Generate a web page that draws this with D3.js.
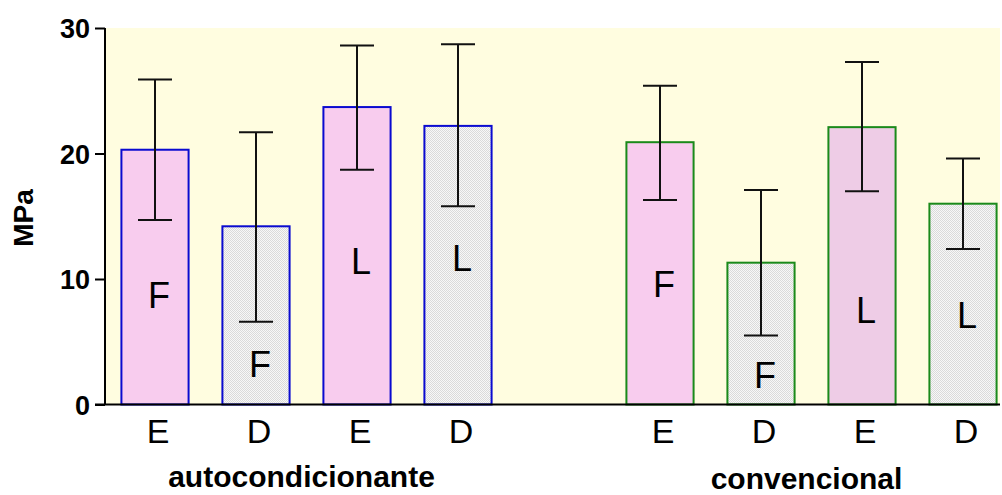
<!DOCTYPE html>
<meta charset="utf-8">
<style>
body { margin: 0; background: #fff; }
text { font-family: "Liberation Sans", Arial, sans-serif; }
.ytick { font-size: 27px; font-weight: bold; }
.xtick { font-size: 34px; }
.group { font-size: 30px; font-weight: bold; }
.inlabel { font-size: 36px; }
</style>
<body>
<script src="https://d3js.org/d3.v7.min.js"></script>
<script>
var width = 1002,
    height = 495;

// data
var slots = ["a1", "a2", "a3", "a4", "gap", "c1", "c2", "c3", "c4"];
var categories = ["E", "D", "E", "D", "E", "D", "E", "D"];
var groups = ["autocondicionante", "autocondicionante", "autocondicionante", "autocondicionante",
              "convencional", "convencional", "convencional", "convencional"];
var means = [20.3, 14.2, 23.7, 22.2, 20.9, 11.3, 22.1, 16.0];
var errHigh = [25.9, 21.7, 28.6, 28.7, 25.4, 17.1, 27.3, 19.6];
var errLow = [14.7, 6.6, 18.7, 15.8, 16.3, 5.5, 17.0, 12.4];
var inLabels = ["F", "F", "L", "L", "F", "F", "L", "L"];
var inLabelAt = [7.7, 2.2, 10.4, 10.6, 8.6, 1.3, 6.5, 6.1];
var yTicks = [0, 10, 20, 30];
var groupNames = ["autocondicionante", "convencional"];

var svg = d3.select("body").append("svg")
    .attr("width", width)
    .attr("height", height);

var defs = svg.append("defs");
var pat = defs.append("pattern")
    .attr("id", "dots")
    .attr("width", 2).attr("height", 2)
    .attr("patternUnits", "userSpaceOnUse");
pat.append("rect").attr("width", 2).attr("height", 2).attr("fill", "#f7f7f7");
pat.append("rect").attr("width", 1).attr("height", 1).attr("fill", "#dadada");
pat.append("rect").attr("x", 1).attr("y", 1).attr("width", 1).attr("height", 1).attr("fill", "#dadada");

var x = d3.scaleBand()
    .domain(slots)
    .range([104.5, 1013.5])
    .paddingInner(0.335)
    .paddingOuter(0.1675);

var y = d3.scaleLinear()
    .domain([0, 30])
    .range([404.5, 28]);

var bars = means.map(function (m, i) {
    return {
        slot: slots[i < 4 ? i : i + 1],
        cat: categories[i],
        group: groups[i],
        mean: m,
        hi: errHigh[i],
        lo: errLow[i],
        label: inLabels[i],
        labelAt: inLabelAt[i],
        i: i
    };
});

// plot background
svg.append("rect")
    .attr("x", 105).attr("y", y(30))
    .attr("width", 1000 - 105).attr("height", y(0) - y(30))
    .attr("fill", "#fffde0");

var fills = ["#f8ccee", "url(#dots)", "#f8ccee", "url(#dots)", "#f8ccee", "url(#dots)", "#eeccE6", "url(#dots)"];

svg.selectAll(".bar").data(bars).enter().append("rect")
    .attr("class", "bar")
    .attr("x", function (d) { return x(d.slot); })
    .attr("y", function (d) { return y(d.mean); })
    .attr("width", x.bandwidth())
    .attr("height", function (d) { return y(0) - y(d.mean); })
    .attr("fill", function (d) { return fills[d.i]; })
    .attr("stroke", function (d) { return d.group === "autocondicionante" ? "#0a0ad0" : "#1a8a1a"; })
    .attr("stroke-width", 2);

svg.selectAll(".inlabel").data(bars).enter().append("text")
    .attr("class", "inlabel")
    .attr("x", function (d) { return x(d.slot) + x.bandwidth() / 2 + 4; })
    .attr("y", function (d) { return y(d.labelAt); })
    .attr("text-anchor", "middle")
    .text(function (d) { return d.label; });

// error bars
var eb = svg.selectAll(".err").data(bars).enter().append("g")
    .attr("stroke", "#111")
    .attr("stroke-width", 2);
eb.append("line")
    .attr("x1", function (d) { return x(d.slot) + x.bandwidth() / 2; })
    .attr("x2", function (d) { return x(d.slot) + x.bandwidth() / 2; })
    .attr("y1", function (d) { return y(d.lo); })
    .attr("y2", function (d) { return y(d.hi); });
["hi", "lo"].forEach(function (k) {
    eb.append("line")
        .attr("x1", function (d) { return x(d.slot) + x.bandwidth() / 2 - 17; })
        .attr("x2", function (d) { return x(d.slot) + x.bandwidth() / 2 + 17; })
        .attr("y1", function (d) { return y(d[k]); })
        .attr("y2", function (d) { return y(d[k]); });
});

// y axis
var yAxis = svg.append("g")
    .attr("transform", "translate(105,0)")
    .call(d3.axisLeft(y).tickValues(yTicks).tickSize(10).tickPadding(5));
yAxis.select(".domain").attr("stroke", "#000").attr("stroke-width", 2).attr("d", "M0," + y(0) + "V" + y(30));
yAxis.selectAll(".tick line").attr("stroke", "#000").attr("stroke-width", 2);
yAxis.selectAll(".tick text")
    .attr("class", "ytick")
    .attr("fill", "#000")
    .attr("font-family", null)
    .attr("font-size", null)
    .attr("dy", "0.36em");

// x axis line
svg.append("line")
    .attr("x1", 95).attr("x2", 1000)
    .attr("y1", y(0)).attr("y2", y(0))
    .attr("stroke", "#000").attr("stroke-width", 2);

svg.selectAll(".xtick").data(bars).enter().append("text")
    .attr("class", "xtick")
    .attr("x", function (d) { return x(d.slot) + x.bandwidth() / 2 + 3; })
    .attr("y", 443)
    .attr("text-anchor", "middle")
    .text(function (d) { return d.cat; });

// group labels
var groupCenters = [
    (x("a1") + x("a4") + x.bandwidth()) / 2,
    (x("c1") + x("c4") + x.bandwidth()) / 2
];
svg.selectAll(".group").data(groupNames).enter().append("text")
    .attr("class", "group")
    .attr("x", function (d, i) { return groupCenters[i] - 5; })
    .attr("y", function (d, i) { return i === 0 ? 487 : 489; })
    .attr("text-anchor", "middle")
    .text(function (d) { return d; });

// y title
svg.append("text")
    .attr("transform", "translate(33,218) rotate(-90)")
    .attr("text-anchor", "middle")
    .attr("font-size", 28)
    .attr("font-weight", "bold")
    .text("MPa");
</script>
</body>
